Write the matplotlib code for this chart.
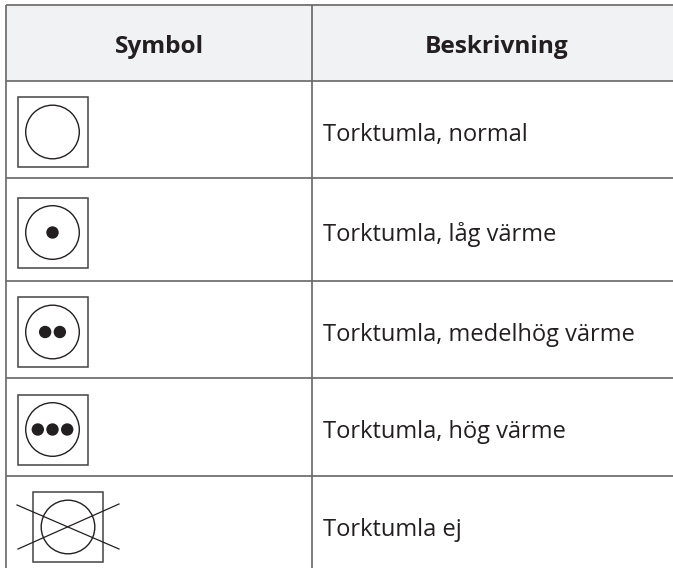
#!/usr/bin/env python3
"""Table of tumble-dry care symbols with Swedish descriptions."""

import matplotlib
matplotlib.use("Agg")
import matplotlib.pyplot as plt
from matplotlib.patches import Circle, Rectangle

HEADERS = ["Symbol", "Beskrivning"]
DESCRIPTIONS = [
    "Torktumla, normal",
    "Torktumla, låg värme",
    "Torktumla, medelhög värme",
    "Torktumla, hög värme",
    "Torktumla ej",
]
DOT_COUNTS = [0, 1, 2, 3, 0]
CROSSED = [False, False, False, False, True]

ROW_EDGES = [5, 80.5, 178, 280.5, 378, 476, 568]
SYMBOL_CENTER_X = [52.5, 52.5, 52.5, 52.5, 68]
SYMBOL_CENTER_Y = [132, 232.5, 332, 429.5, 527]
TEXT_BASELINE = [141, 241, 341, 438, 536]

LINE = "#666666"
INK = "#231f20"


def draw_symbol(ax, cx, cy, dots, crossed):
    ax.add_patch(Rectangle((cx - 35, cy - 35), 70, 70, fill=False, ec="#444444", lw=1.1))
    ax.add_patch(Circle((cx, cy), 26.8, fill=False, ec=INK, lw=1.0))
    gap = 14.7
    for i in range(dots):
        ax.add_patch(Circle((cx + (i - (dots - 1) / 2) * gap, cy), 6.2, color=INK, lw=0))
    if crossed:
        ax.plot([cx - 51, cx + 51], [cy - 22, cy + 22], color=INK, lw=0.9)
        ax.plot([cx - 50, cx + 51], [cy + 22, cy - 23], color=INK, lw=0.9)


fig = plt.figure(figsize=(6.73, 5.68), dpi=100)
ax = fig.add_axes([0, 0, 1, 1])
ax.set_xlim(0, 673)
ax.set_ylim(568, 0)
ax.axis("off")

ax.add_patch(Rectangle((6, 5), 667, 75.5, color="#f1f2f4", lw=0))
for y in ROW_EDGES[:-1]:
    ax.plot([6, 673], [y, y], color=LINE, lw=1.2, solid_capstyle="butt")
for x in [6, 312]:
    ax.plot([x, x], [5, 568], color=LINE, lw=1.2, solid_capstyle="butt")

for x, label in zip([159, 497], HEADERS):
    ax.text(x, 53, label, ha="center", va="baseline", fontsize=17.6, fontweight="bold",
            family="Open Sans", color=INK)

for row, text in enumerate(DESCRIPTIONS):
    ax.text(323, TEXT_BASELINE[row], text, ha="left", va="baseline", fontsize=17,
            family="Open Sans", color=INK)
    draw_symbol(ax, SYMBOL_CENTER_X[row], SYMBOL_CENTER_Y[row], DOT_COUNTS[row], CROSSED[row])

fig.savefig("out.png", dpi=100, facecolor="white")
plt.close(fig)
